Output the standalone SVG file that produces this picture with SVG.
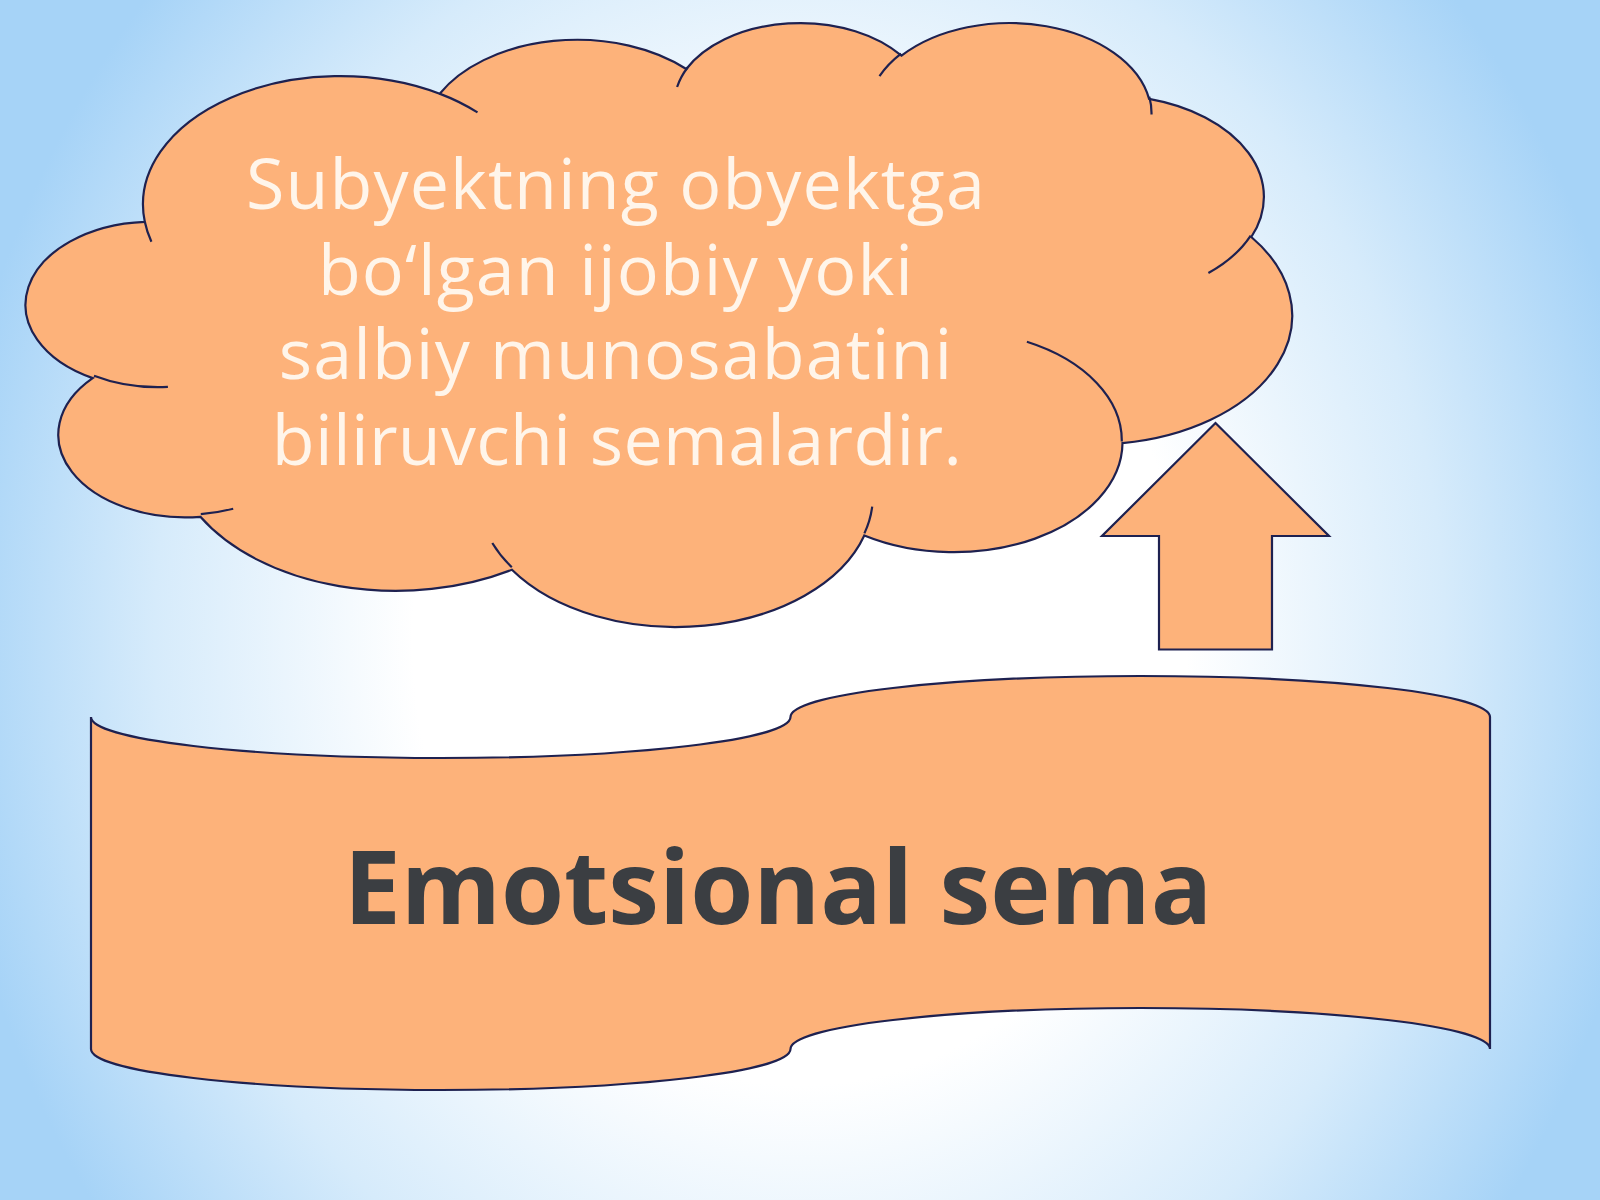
<svg xmlns="http://www.w3.org/2000/svg" width="1600" height="1200" viewBox="0 0 1600 1200">
  <defs>
    <radialGradient id="bg" gradientUnits="userSpaceOnUse" cx="800" cy="640" r="860" gradientTransform="translate(800 640) scale(1 1.15) translate(-800 -640)">
      <stop offset="0" stop-color="#FFFFFF"/>
      <stop offset="0.45" stop-color="#FFFFFF"/>
      <stop offset="0.75" stop-color="#D6EBFB"/>
      <stop offset="1" stop-color="#A6D3F7"/>
    </radialGradient>
    <style>
      .shape { fill: #FDB27A; stroke: #1E2150; stroke-width: 2.2; }
      .stub { fill: none; stroke: #1E2150; stroke-width: 2.2; }
      .cloudtext { font-family: "Open Sans", "Noto Sans", "DejaVu Sans", sans-serif; font-size: 70px; letter-spacing: 1.1px; fill: #FFF5EA; text-anchor: middle; }
      .tight { letter-spacing: 0.3px; }
      .title { font-family: "Open Sans", "Noto Sans", "DejaVu Sans", sans-serif; font-size: 102px; font-weight: bold; fill: #3B3E42; text-anchor: middle; }
    </style>
  </defs>
  <rect x="0" y="0" width="1600" height="1200" fill="url(#bg)"/>

  <g id="cloud">
    <path class="shape" d="M144.8,221.8 A197.1,128.4 0 0 1 439.7,93.7 A155.6,101.6 0 0 1 686.3,69.0 A127.4,83.1 0 0 1 901.5,55.7 A141.7,92.2 0 0 1 1149.1,98.9 A155.6,101.6 0 0 1 1251.3,237.0 A197.7,128.9 0 0 1 1122.5,443.1 A168.8,109.9 0 0 1 864.3,535.5 A197.0,128.8 0 0 1 511.9,569.8 A225.3,147.3 0 0 1 200.4,516.8 A127.2,82.7 0 0 1 92.7,378.1 A126.8,83.1 0 0 1 144.8,221.8 Z"/>
    <path class="stub" d="M167.9,386.9 A126.8,83.1 0 0 1 94.0,375.7 M233.2,508.8 A127.2,82.7 0 0 1 200.8,514.1 M511.8,567.3 A197.0,128.8 0 0 1 492.3,543.0 M872.2,506.7 A197.0,128.8 0 0 1 864.4,533.4 M1026.9,341.8 A168.8,109.9 0 0 1 1121.8,441.5 M1250.7,235.6 A155.6,101.6 0 0 1 1208.4,273.0 M1149.3,96.8 A141.7,92.2 0 0 1 1151.5,114.5 M879.5,76.2 A141.7,92.2 0 0 1 901.1,53.7 M677.1,87.0 A127.4,83.1 0 0 1 687.6,67.5 M439.5,93.6 A197.1,128.4 0 0 1 477.5,112.4 M151.4,241.7 A197.1,128.4 0 0 1 144.8,221.8"/>
    <text class="cloudtext" x="616" y="209">Subyektning obyektga</text>
    <text class="cloudtext" x="616" y="294.5">bo‘lgan ijobiy yoki</text>
    <text class="cloudtext" x="616" y="379">salbiy munosabatini</text>
    <text class="cloudtext tight" x="617" y="465">biliruvchi semalardir.</text>
  </g>

  <g id="connectors">
    <polygon id="arrow-up" class="shape" points="1215.5,423 1329,536 1272,536 1272,649.5 1159,649.5 1159,536 1102,536"/>
  </g>

  <g id="ribbon">
    <path class="shape" d="M91,717 A349.75,41 0 0 0 790.5,717 A349.75,41 0 0 1 1490,717 L1490,1049 A349.75,41 0 0 0 790.5,1049 A349.75,41 0 0 1 91,1049 Z"/>
    <text class="title" x="778" y="924">Emotsional sema</text>
  </g>
</svg>
